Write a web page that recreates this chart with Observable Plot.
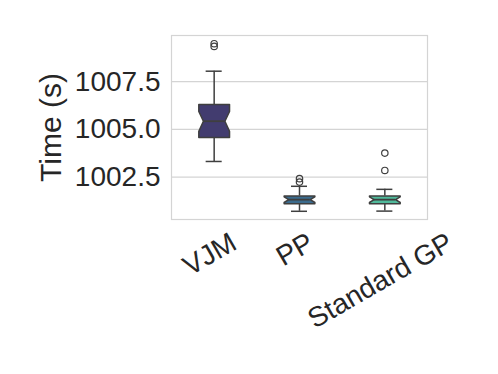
<!DOCTYPE html>
<html>
<head>
<meta charset="utf-8">
<script src="https://cdn.jsdelivr.net/npm/d3@7"></script>
<script src="https://cdn.jsdelivr.net/npm/@observablehq/plot@0.6"></script>
<style>
  html, body { margin: 0; padding: 0; background: #ffffff; }
  #chart { width: 498px; height: 374px; }
</style>
</head>
<body>
<div id="chart"></div>
<script>
// ---- data ----
const categories = ["VJM", "PP", "Standard GP"];
const whiskerLow = [1003.32, 1000.71, 1000.72];
const q1 = [1004.57, 1001.11, 1001.11];
const notchLow = [1004.90, 1001.17, 1001.17];
const median = [1005.43, 1001.32, 1001.32];
const notchHigh = [1005.94, 1001.47, 1001.47];
const q3 = [1006.31, 1001.51, 1001.51];
const whiskerHigh = [1008.05, 1002.02, 1001.86];
const outliers = [[1009.49, 1009.35], [1002.42, 1002.24], [1003.76, 1002.85]];
const colors = ["#423c6f", "#3b6b8d", "#50ba9b"];
const yTicks = [1002.5, 1005.0, 1007.5];
const yLabel = "Time (s)";

// ---- derived tables ----
const hw = 0.18, nw = 0.126, cw = 0.094;
const stats = categories.map((c, i) => ({
  c, i, lo: whiskerLow[i], q1: q1[i], nlo: notchLow[i], med: median[i],
  nhi: notchHigh[i], q3: q3[i], hi: whiskerHigh[i], color: colors[i]
}));
const poly = stats.flatMap(s => [
  [s.i - hw, s.q1], [s.i - hw, s.nlo], [s.i - nw, s.med], [s.i - hw, s.nhi],
  [s.i - hw, s.q3], [s.i + hw, s.q3], [s.i + hw, s.nhi], [s.i + nw, s.med],
  [s.i + hw, s.nlo], [s.i + hw, s.q1], [s.i - hw, s.q1]
].map(([x, y]) => ({x, y, c: s.c, color: s.color})));
const outPts = outliers.flatMap((arr, i) => arr.map(v => ({i, v})));

// label offsets for rotated (30deg) centred tick labels
const font = "28px 'Liberation Sans', Arial, sans-serif";
const ctx = document.createElement("canvas").getContext("2d");
ctx.font = font;
const labelDy = categories.map(t => {
  const w = ctx.measureText(t).width;
  return 20 + (w * 0.5 + 20 * 0.866) / 2;
});

const edge = "#3f3f3f";
const plot = Plot.plot({
  width: 498, height: 374,
  marginLeft: 171, marginRight: 71, marginTop: 35, marginBottom: 155,
  style: {fontFamily: "'Liberation Sans', Arial, sans-serif", background: "#ffffff", color: "#262626"},
  x: {domain: [-0.5, 2.5], axis: null},
  y: {domain: [1000.28, 1009.92], label: null},
  marks: [
    Plot.gridY(yTicks, {stroke: "#d4d4d4", strokeOpacity: 1, strokeWidth: 1.2}),
    Plot.frame({stroke: "#d4d4d4", strokeWidth: 1.2}),
    Plot.axisY(yTicks, {tickSize: 0, tickPadding: 11, fontSize: 28, tickFormat: ".1f", label: null}),
    Plot.text([yLabel], {frameAnchor: "left", dx: -120, rotate: -90, textAnchor: "middle", fontSize: 30, fill: "#262626"}),
    Plot.text(categories, {x: (d, i) => i, frameAnchor: "bottom", rotate: -30, textAnchor: "middle",
      dy: 0, dx: 0, fontSize: 28, fill: "#262626", text: d => d}),
    Plot.ruleX(stats, {x: "i", y1: "q3", y2: "hi", stroke: edge, strokeWidth: 1.5}),
    Plot.ruleX(stats, {x: "i", y1: "lo", y2: "q1", stroke: edge, strokeWidth: 1.5}),
    Plot.ruleY(stats, {x1: d => d.i - cw, x2: d => d.i + cw, y: "hi", stroke: edge, strokeWidth: 1.5}),
    Plot.ruleY(stats, {x1: d => d.i - cw, x2: d => d.i + cw, y: "lo", stroke: edge, strokeWidth: 1.5}),
    Plot.line(poly, {x: "x", y: "y", z: "c", fill: "color", stroke: edge, strokeWidth: 1.5, curve: "linear"}),
    Plot.ruleY(stats, {x1: d => d.i - nw, x2: d => d.i + nw, y: "med", stroke: edge, strokeWidth: 1.8}),
    Plot.dot(outPts, {x: "i", y: "v", r: 3.2, stroke: edge, strokeWidth: 1.2, fill: "none"})
  ]
});
// apply per-label vertical offsets
const texts = plot.querySelectorAll("g[aria-label='text']");
const xLabelGroup = texts[1];
if (xLabelGroup) {
  xLabelGroup.querySelectorAll("text").forEach((t, i) => {
    const tr = t.getAttribute("transform") || "";
    t.setAttribute("transform", `translate(0,${labelDy[i]}) ` + tr);
  });
}
document.getElementById("chart").appendChild(plot);
</script>
</body>
</html>
